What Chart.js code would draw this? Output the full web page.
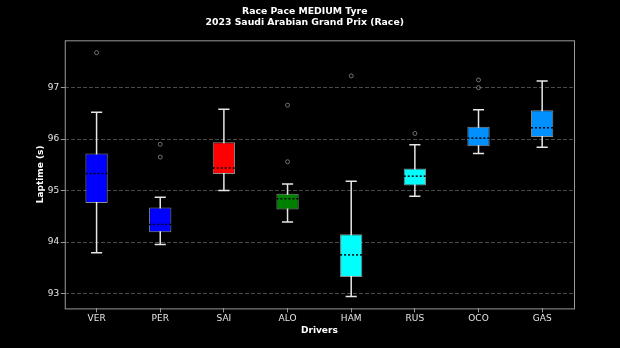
<!DOCTYPE html>
<html>
<head>
<meta charset="utf-8">
<script src="https://cdn.jsdelivr.net/npm/chart.js@4.4.0/dist/chart.umd.min.js"></script>
<style>
  html, body { margin: 0; padding: 0; background: #000; }
  canvas { display: block; }
</style>
</head>
<body>
<canvas id="paceChart" width="620" height="348"></canvas>
<script>
// lap time distribution per driver, medium tyre stints
var drivers = ['VER', 'PER', 'SAI', 'ALO', 'HAM', 'RUS', 'OCO', 'GAS'];
var q1 = [94.76, 94.19, 95.32, 94.63, 93.32, 95.10, 95.86, 96.04];
var q3 = [95.72, 94.67, 95.94, 94.94, 94.15, 95.43, 96.24, 96.56];
var medians = [95.33, 94.34, 95.44, 94.84, 93.75, 95.28, 96.02, 96.22];
var whiskerLow = [93.79, 93.95, 95.00, 94.39, 92.94, 94.89, 95.72, 95.84];
var whiskerHigh = [96.52, 94.87, 96.58, 95.13, 95.18, 95.89, 96.57, 97.13];
var outliers = {
    VER: [97.68],
    PER: [95.90, 95.65],
    ALO: [96.66, 95.56],
    HAM: [97.23],
    RUS: [96.11],
    OCO: [97.15, 97.00]
};
var teamColors = ['#0000ff', '#0000ff', '#ff0000', '#008000', '#00ffff', '#00ffff', '#0090ff', '#0090ff'];
var yTicks = [93, 94, 95, 96, 97];

var outlierPoints = [];
Object.keys(outliers).forEach(function (d) {
    outliers[d].forEach(function (v) {
        outlierPoints.push({ x: d, y: v });
    });
});

// whiskers, medians and the frame around the plot
var boxExtras = {
    id: 'boxExtras',
    beforeDatasetsDraw: function (chart) {
        var ctx = chart.ctx;
        var y = chart.scales.y;
        var bars = chart.getDatasetMeta(0).data;
        ctx.save();
        ctx.strokeStyle = '#e6e6e6';
        ctx.lineWidth = 1.5;
        bars.forEach(function (bar, i) {
            var half = bar.width / 4;
            var lo = y.getPixelForValue(whiskerLow[i]);
            var hi = y.getPixelForValue(whiskerHigh[i]);
            ctx.beginPath();
            ctx.moveTo(bar.x, lo);
            ctx.lineTo(bar.x, hi);
            ctx.moveTo(bar.x - half, lo);
            ctx.lineTo(bar.x + half, lo);
            ctx.moveTo(bar.x - half, hi);
            ctx.lineTo(bar.x + half, hi);
            ctx.stroke();
        });
        ctx.restore();
    },
    afterDatasetsDraw: function (chart) {
        var ctx = chart.ctx;
        var y = chart.scales.y;
        var bars = chart.getDatasetMeta(0).data;
        var area = chart.chartArea;
        ctx.save();
        ctx.strokeStyle = '#000';
        ctx.lineWidth = 1.5;
        ctx.setLineDash([2, 2]);
        bars.forEach(function (bar, i) {
            var m = y.getPixelForValue(medians[i]);
            ctx.beginPath();
            ctx.moveTo(bar.x - bar.width / 2, m);
            ctx.lineTo(bar.x + bar.width / 2, m);
            ctx.stroke();
        });
        ctx.setLineDash([]);
        ctx.strokeStyle = '#9a9a9a';
        ctx.lineWidth = 1;
        ctx.strokeRect(area.left + 0.5, area.top + 0.5, area.right - area.left, area.bottom - area.top);
        ctx.restore();
    }
};

var ctx = document.getElementById('paceChart').getContext('2d');
var paceChart = new Chart(ctx, {
    type: 'bar',
    data: {
        labels: drivers,
        datasets: [{
            label: 'IQR',
            data: drivers.map(function (d, i) { return [q1[i], q3[i]]; }),
            backgroundColor: teamColors,
            borderColor: 'rgba(255,255,255,0.55)',
            borderWidth: 1,
            borderSkipped: false,
            barPercentage: 0.35,
            categoryPercentage: 1.0,
            order: 2
        }, {
            type: 'line',
            label: 'Outliers',
            data: outlierPoints,
            showLine: false,
            pointRadius: 2,
            pointBorderWidth: 0.8,
            pointBorderColor: '#8c8c8c',
            pointBackgroundColor: 'rgba(0,0,0,0)',
            order: 1
        }]
    },
    options: {
        responsive: false,
        animation: false,
        layout: {
            padding: { left: 35.5, right: 46, top: 2, bottom: 12 }
        },
        plugins: {
            legend: { display: false },
            tooltip: { enabled: false },
            title: {
                display: true,
                text: ['Race Pace MEDIUM Tyre', '2023 Saudi Arabian Grand Prix (Race)'],
                color: '#ffffff',
                font: { family: 'DejaVu Sans', size: 9.3, weight: 'bold', lineHeight: 1.2 },
                padding: { top: 4, bottom: 12 }
            }
        },
        scales: {
            x: {
                grid: { drawOnChartArea: false, offset: false, color: '#9a9a9a', tickLength: 4 },
                border: { display: false },
                ticks: { color: '#e6e6e6', font: { family: 'DejaVu Sans', size: 9 }, padding: 1 },
                title: {
                    display: true,
                    text: 'Drivers',
                    color: '#ffffff',
                    font: { family: 'DejaVu Sans', size: 9, weight: 'bold' },
                    padding: { top: 0, bottom: 0 }
                }
            },
            y: {
                min: 92.71,
                max: 97.92,
                afterBuildTicks: function (scale) {
                    scale.ticks = yTicks.map(function (v) { return { value: v }; });
                },
                grid: { color: '#4a4a4a', lineWidth: 1, tickLength: 4, tickColor: '#9a9a9a', tickBorderDash: [] },
                border: { display: false, dash: [4, 2] },
                ticks: { color: '#e6e6e6', font: { family: 'DejaVu Sans', size: 9 }, padding: 1.5 },
                title: {
                    display: true,
                    text: 'Laptime (s)',
                    color: '#ffffff',
                    font: { family: 'DejaVu Sans', size: 9, weight: 'bold' },
                    padding: { top: 0, bottom: 0 }
                }
            }
        }
    },
    plugins: [boxExtras]
});
</script>
</body>
</html>
